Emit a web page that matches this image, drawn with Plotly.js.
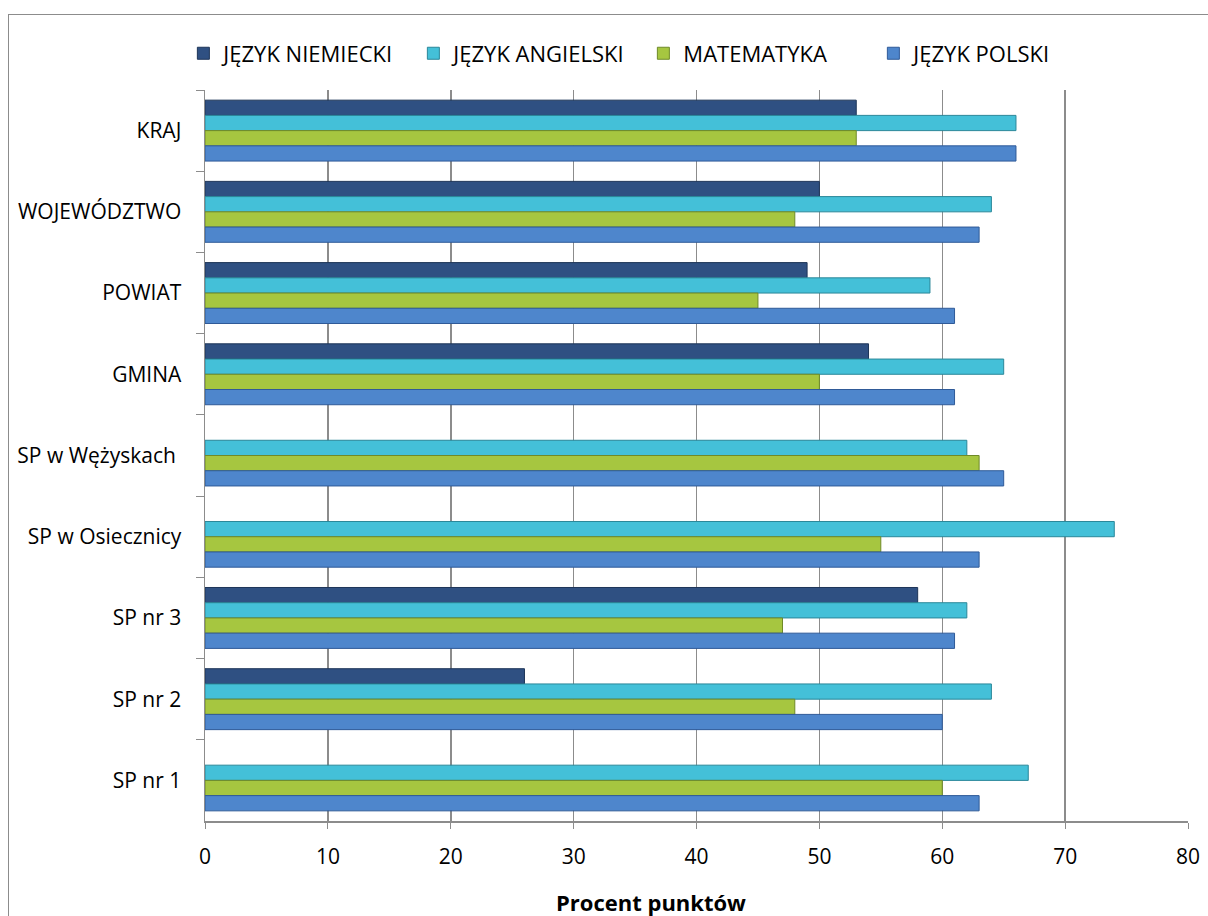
<!DOCTYPE html>
<html>
<head>
<meta charset="utf-8">
<script src="https://cdn.plot.ly/plotly-3.0.1.min.js"></script>
<style>
  html, body { margin:0; padding:0; background:#fff; overflow:hidden; }
  #chart { width:1208px; height:916px; }
  #frame { position:absolute; left:8px; top:14px; width:1210px; height:910px; border:1.5px solid #8c8c8c; pointer-events:none; }
</style>
</head>
<body>
<div id="chart"></div>
<div id="frame"></div>
<script>
const categories = ['KRAJ','WOJEWÓDZTWO','POWIAT','GMINA','SP w Wężyskach ','SP w Osiecznicy','SP nr 3','SP nr 2','SP nr 1'];
const seriesNames = ['JĘZYK NIEMIECKI','JĘZYK ANGIELSKI','MATEMATYKA','JĘZYK POLSKI'];
const niemiecki  = [53, 50, 49, 54, null, null, 58, 26, null];
const angielski  = [66, 64, 59, 65, 62, 74, 62, 64, 67];
const matematyka = [53, 48, 45, 50, 63, 55, 47, 48, 60];
const polski     = [66, 63, 61, 61, 65, 63, 61, 60, 63];
const xTicks = [0,10,20,30,40,50,60,70,80];
const axisTitle = 'Procent punktów';

const colors = ['#2F5082','#44C0D8','#A6C640','#4E86CC'];
const lines  = ['#1E3558','#2A8799','#6F8A28','#2F5A98'];
const values = [niemiecki, angielski, matematyka, polski];

const font = "'Open Sans', 'Noto Sans', sans-serif";
const traces = values.map((v, i) => ({
  type: 'bar',
  orientation: 'h',
  name: seriesNames[i],
  y: categories,
  x: v,
  marker: { color: colors[i], line: { color: lines[i], width: 1 } },
  hoverinfo: 'x+y+name'
}));

const layout = {
  width: 1208, height: 916,
  margin: { l: 205, r: 20, t: 90, b: 95 },
  paper_bgcolor: '#fff', plot_bgcolor: '#fff',
  barmode: 'group',
  bargap: 0.25,
  bargroupgap: 0,
  showlegend: true,
  legend: {
    orientation: 'h', x: -0.022, xanchor: 'left', y: 1.05, yanchor: 'middle',
    font: { family: font, size: 22, color: '#000' },
    traceorder: 'normal', itemwidth: 30, entrywidth: 185, entrywidthmode: 'pixels'
  },
  xaxis: {
    range: [0, 80], tickvals: xTicks, ticktext: xTicks.map(String),
    showgrid: true, gridcolor: '#8c8c8c', gridwidth: 1.5,
    showline: true, linecolor: '#8c8c8c', linewidth: 1.5,
    ticks: 'outside', ticklen: 6, tickcolor: '#8c8c8c',
    tickfont: { family: font, size: 21, color: '#000' },
    ticklabelstandoff: 10,
    zeroline: false
  },
  yaxis: {
    type: 'category', autorange: 'reversed',
    showline: true, linecolor: '#8c8c8c', linewidth: 1.5,
    ticks: 'outside', ticklen: 8, tickcolor: '#8c8c8c', tickson: 'boundaries',
    tickfont: { family: font, size: 21, color: '#000' },
    showgrid: false, zeroline: false, ticklabelstandoff: 18
  },
  annotations: [{
    xref: 'paper', yref: 'paper', x: 0.4537, y: -0.1108,
    xanchor: 'center', yanchor: 'middle', showarrow: false,
    text: '<b>' + axisTitle + '</b>',
    font: { family: font, size: 22, color: '#000' }
  }]
};

Plotly.newPlot('chart', traces, layout, { displayModeBar: false, staticPlot: true });
</script>
</body>
</html>
